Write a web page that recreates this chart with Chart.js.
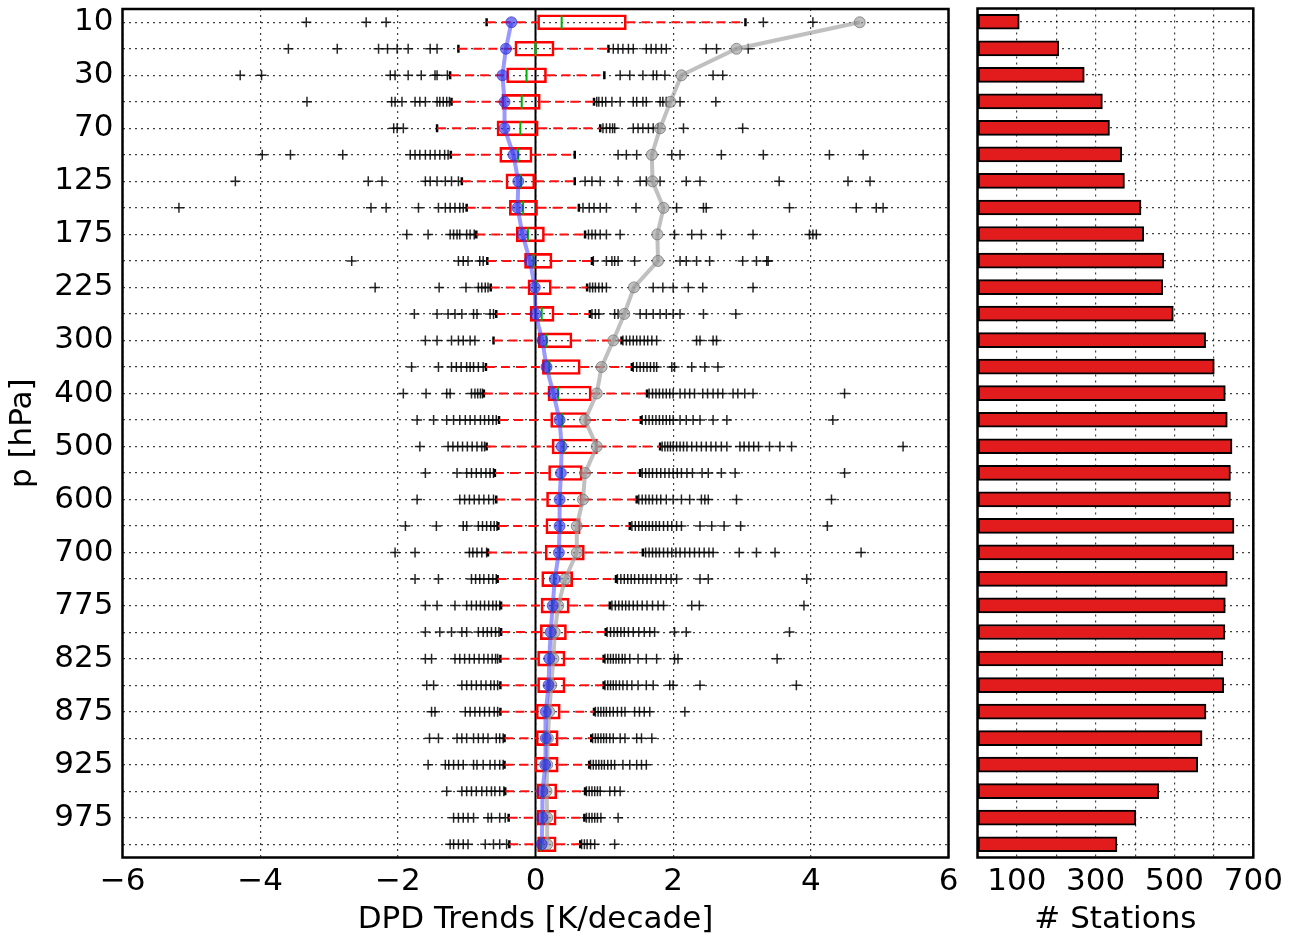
<!DOCTYPE html>
<html><head><meta charset="utf-8">
<script src="https://cdn.jsdelivr.net/npm/chart.js@4.4.1/dist/chart.umd.min.js"></script>
<style>
html,body{margin:0;padding:0;background:#fff;width:1298px;height:939px;overflow:hidden}
#cl{position:absolute;left:0;top:0}
#cr{position:absolute;left:960px;top:0}
</style></head><body>
<canvas id="cl" width="960" height="939"></canvas>
<canvas id="cr" width="338" height="939"></canvas>
<script>
// pressure levels [hPa]
const levels = [10,20,30,50,70,100,125,150,175,200,225,250,300,350,400,450,500,550,600,650,700,750,775,800,825,850,875,900,925,950,975,1000];
// box plot statistics [K/decade]
const boxQ1 = [0.03,-0.30,-0.42,-0.49,-0.56,-0.52,-0.43,-0.38,-0.28,-0.16,-0.11,-0.08,0.04,0.10,0.18,0.22,0.24,0.19,0.16,0.15,0.14,0.09,0.08,0.07,0.03,0.03,0.01,0.01,-0.01,0.02,0.02,0.03];
const boxQ3 = [1.32,0.27,0.16,0.07,0.04,-0.05,-0.01,0.03,0.13,0.24,0.23,0.27,0.53,0.65,0.81,0.75,0.90,0.68,0.68,0.65,0.71,0.54,0.49,0.45,0.43,0.43,0.36,0.33,0.33,0.31,0.30,0.30];
const boxMedian = [0.38,0.00,-0.13,-0.20,-0.22,-0.25,-0.21,-0.18,-0.11,-0.03,0.01,0.09,0.16,0.20,0.33,0.39,0.41,0.38,0.36,0.36,0.35,0.27,0.24,0.22,0.20,0.19,0.15,0.14,0.13,0.10,0.10,0.08];
const whiskerLow = [-0.71,-1.12,-1.24,-1.22,-1.43,-1.23,-1.07,-1.00,-0.86,-0.70,-0.65,-0.57,-0.61,-0.72,-0.75,-0.53,-0.71,-0.59,-0.57,-0.54,-0.69,-0.55,-0.50,-0.50,-0.51,-0.51,-0.51,-0.45,-0.45,-0.44,-0.39,-0.38];
const whiskerHigh = [3.05,1.06,1.00,0.85,0.94,0.57,0.57,0.63,0.72,0.82,0.75,0.79,1.25,1.40,1.62,1.53,1.81,1.52,1.47,1.37,1.56,1.17,1.08,1.02,0.99,0.99,0.85,0.81,0.78,0.72,0.71,0.65];
// blue and grey profile lines
const blueTrend = [-0.35,-0.43,-0.48,-0.45,-0.45,-0.32,-0.25,-0.26,-0.19,-0.08,-0.01,0.00,0.10,0.16,0.26,0.35,0.38,0.37,0.35,0.35,0.34,0.28,0.25,0.22,0.20,0.19,0.15,0.15,0.14,0.10,0.10,0.09];
const greyTrend = [4.71,2.92,2.12,1.96,1.81,1.69,1.70,1.86,1.77,1.78,1.43,1.29,1.13,0.96,0.89,0.72,0.89,0.72,0.69,0.60,0.60,0.43,0.33,0.28,0.26,0.23,0.20,0.18,0.17,0.16,0.17,0.17];
// outliers per level
const outliers = [
 [-3.33,-2.46,-2.17,3.31,4.03],
 [-3.59,-2.88,-2.28,-2.15,-2.01,-1.85,-1.53,-1.43,1.13,1.20,1.27,1.35,1.42,1.61,1.68,1.75,1.83,1.90,2.48,2.63,3.09],
 [-4.29,-3.98,-2.11,-2.04,-1.85,-1.66,-1.46,-1.43,-1.28,1.23,1.37,1.56,1.71,1.76,1.88,2.58,2.72],
 [-3.32,-2.09,-2.04,-1.94,-1.75,-1.68,-1.60,-1.43,-1.39,-1.34,-1.29,-1.25,0.89,0.92,0.97,1.02,1.11,1.23,1.42,1.47,1.56,1.61,1.81,1.85,1.90,2.10,2.62],
 [-2.06,-2.01,-1.92,0.98,1.03,1.08,1.12,1.15,1.42,1.49,1.56,1.64,1.71,1.78,2.15,3.01],
 [-3.97,-3.56,-2.80,-1.82,-1.75,-1.68,-1.60,-1.53,-1.46,-1.39,-1.32,-1.27,1.20,1.32,1.47,1.98,2.10,2.70,3.31,4.27,4.76],
 [-4.36,-2.43,-2.23,-1.60,-1.53,-1.43,-1.31,-1.22,-1.12,0.72,0.82,0.94,1.20,1.52,1.61,1.81,2.19,2.39,3.54,4.54,4.86],
 [-5.18,-2.39,-2.17,-1.70,-1.41,-1.31,-1.24,-1.17,-1.10,-1.05,0.69,0.78,0.85,0.94,1.03,1.46,2.05,2.44,2.48,3.69,4.66,4.95,5.05],
 [-1.87,-1.56,-1.24,-1.19,-1.14,-1.10,-1.00,-0.95,-0.89,0.77,0.82,0.87,0.94,1.03,1.23,2.02,2.27,2.41,2.70,3.16,3.98,4.03,4.08],
 [-2.67,-1.12,-1.05,-0.98,-0.81,-0.76,0.84,1.03,1.11,1.15,1.20,1.44,2.10,2.19,2.34,2.53,3.01,3.21,3.36,3.38],
 [-2.33,-1.40,-1.01,-0.83,-0.78,-0.73,-0.69,0.79,0.83,0.87,0.92,0.97,1.03,1.71,1.85,2.00,2.22,2.43,3.16],
 [-1.76,-1.43,-1.27,-1.17,-1.07,-0.90,-0.85,-0.66,-0.61,0.82,0.87,0.92,1.15,1.20,1.52,1.61,1.71,1.81,1.90,2.00,2.10,2.44,2.91],
 [-1.60,-1.43,-1.22,-1.12,-1.05,-0.95,-0.88,1.27,1.32,1.37,1.42,1.47,1.52,1.58,1.63,1.69,1.76,2.34,2.39,2.58,2.63],
 [-1.80,-1.41,-1.22,-1.15,-1.08,-1.00,-0.95,-0.90,-0.83,-0.76,1.42,1.47,1.52,1.57,1.62,1.67,1.72,1.76,1.98,2.02,2.27,2.46,2.65],
 [-1.92,-1.59,-1.29,-1.24,-0.93,-0.88,-0.84,-0.80,-0.77,1.65,1.70,1.75,1.80,1.85,1.90,1.95,2.00,2.10,2.17,2.24,2.31,2.43,2.50,2.58,2.65,2.72,2.87,2.94,3.04,3.16,4.49],
 [-1.72,-1.48,-1.29,-1.19,-1.10,-1.02,-0.95,-0.88,-0.80,-0.74,-0.68,-0.62,-0.57,1.55,1.60,1.65,1.70,1.75,1.80,1.85,1.90,1.95,2.00,2.10,2.19,2.29,2.39,2.58,2.78,4.32],
 [-1.68,-1.27,-1.20,-1.13,-1.06,-0.99,-0.92,-0.85,-0.78,-0.74,1.84,1.88,1.92,1.96,2.00,2.05,2.10,2.15,2.20,2.27,2.34,2.41,2.48,2.55,2.62,2.70,2.78,2.97,3.03,3.10,3.17,3.24,3.40,3.55,3.72,5.34],
 [-1.60,-1.14,-1.00,-0.93,-0.86,-0.79,-0.72,-0.66,-0.61,1.55,1.60,1.65,1.70,1.76,1.82,1.88,1.94,2.00,2.06,2.12,2.20,2.28,2.42,2.51,2.70,2.90,4.49],
 [-1.72,-1.10,-1.03,-0.96,-0.89,-0.82,-0.75,-0.68,-0.61,1.50,1.55,1.60,1.65,1.70,1.76,1.82,1.90,2.00,2.12,2.24,2.41,2.46,2.51,2.92,4.30],
 [-1.89,-1.44,-1.05,-1.00,-0.83,-0.77,-0.71,-0.65,-0.60,-0.56,1.40,1.45,1.50,1.55,1.60,1.65,1.70,1.75,1.80,1.86,1.92,1.98,2.05,2.12,2.39,2.56,2.74,2.98,4.24],
 [-2.04,-1.75,-0.96,-0.91,-0.85,-0.78,-0.71,1.60,1.65,1.70,1.75,1.80,1.86,1.92,1.98,2.04,2.10,2.17,2.24,2.31,2.38,2.45,2.52,2.58,2.96,3.21,3.48,4.73],
 [-1.75,-1.41,-0.93,-0.87,-0.81,-0.75,-0.68,-0.62,-0.57,1.19,1.24,1.29,1.34,1.39,1.44,1.50,1.56,1.62,1.68,1.75,1.82,1.90,1.97,2.05,2.39,2.51,3.94],
 [-1.60,-1.43,-1.17,-1.00,-0.93,-0.86,-0.80,-0.74,-0.68,-0.62,-0.57,-0.52,1.11,1.16,1.21,1.26,1.31,1.36,1.42,1.48,1.55,1.62,1.70,1.78,1.86,2.27,2.38,3.90],
 [-1.60,-1.39,-1.22,-1.07,-1.00,-0.83,-0.76,-0.70,-0.64,-0.58,-0.53,1.04,1.09,1.14,1.19,1.24,1.29,1.35,1.42,1.50,1.58,1.66,1.73,2.02,2.19,3.69],
 [-1.60,-1.51,-1.17,-1.10,-1.03,-0.96,-0.89,-0.82,-0.75,-0.69,-0.63,-0.58,-0.55,1.01,1.05,1.09,1.13,1.17,1.21,1.26,1.30,1.37,1.49,1.61,1.76,2.02,2.07,3.51],
 [-1.58,-1.48,-1.07,-1.00,-0.93,-0.86,-0.79,-0.72,-0.65,-0.60,-0.55,1.01,1.05,1.09,1.13,1.17,1.22,1.27,1.33,1.40,1.49,1.61,1.71,1.95,2.00,2.39,3.79],
 [-1.51,-1.46,-1.02,-0.95,-0.88,-0.81,-0.74,-0.67,-0.60,-0.55,0.87,0.91,0.95,0.99,1.03,1.08,1.13,1.19,1.25,1.30,1.44,1.51,1.58,1.66,2.17],
 [-1.54,-1.41,-1.14,-1.07,-1.00,-0.90,-0.83,-0.76,-0.69,-0.57,-0.52,-0.47,0.83,0.87,0.91,0.95,0.99,1.03,1.08,1.13,1.23,1.30,1.47,1.54,1.69],
 [-1.56,-1.31,-1.26,-1.19,-1.12,-1.05,-0.90,-0.85,-0.76,-0.66,-0.59,-0.52,-0.47,0.80,0.84,0.88,0.92,0.96,1.00,1.05,1.10,1.15,1.27,1.37,1.47,1.54,1.61],
 [-1.29,-1.07,-1.00,-0.93,-0.86,-0.78,-0.71,-0.64,-0.59,-0.52,-0.46,0.74,0.78,0.82,0.86,0.90,0.94,1.08,1.15,1.23],
 [-1.19,-1.12,-1.05,-0.98,-0.90,-0.69,-0.64,-0.52,-0.44,0.74,0.78,0.82,0.86,0.90,0.95,1.20],
 [-1.24,-1.19,-1.12,-1.05,-0.98,-0.73,-0.61,-0.52,-0.42,0.67,0.71,0.75,0.80,0.86,1.15]
];
// number of stations per level
const stations = [106,206,271,317,335,366,373,415,422,473,470,497,579,601,629,634,646,642,642,651,651,634,629,628,623,625,580,570,559,460,402,354];
// axis ticks
const trendTicks = [-6,-4,-2,0,2,4,6];
const stationTicks = [0,100,200,300,400,500,600,700];
const stationTickLabels = [100,300,500,700];

const FONT = '"DejaVu Sans", "Liberation Sans", sans-serif';
Chart.defaults.font.family = FONT;
Chart.defaults.color = '#000';

const framePlugin = {
  id: 'frame',
  afterDraw(chart) {
    const {ctx, chartArea: a} = chart;
    ctx.save(); ctx.strokeStyle = '#000'; ctx.lineWidth = 2.5;
    ctx.strokeRect(a.left, a.top, a.right - a.left, a.bottom - a.top);
    ctx.restore();
  }
};
const zeroLinePlugin = {
  id: 'zeroLine',
  beforeDatasetsDraw(chart) {
    const {ctx, chartArea: a, scales} = chart;
    const px = scales.x.getPixelForValue(0);
    ctx.save(); ctx.strokeStyle = '#000'; ctx.lineWidth = 2;
    ctx.beginPath(); ctx.moveTo(px, a.top); ctx.lineTo(px, a.bottom); ctx.stroke();
    ctx.restore();
  }
};

const idx = levels.map((_, i) => i);
const gridDash = [2, 4];
const yScaleBase = {
  type: 'linear', reverse: true, min: -0.5, max: 31.5, offset: false,
  afterBuildTicks: s => { s.ticks = idx.map(i => ({value: i})); },
  grid: {color: 'rgba(0,0,0,0.75)', lineWidth: 1.2, drawTicks: false, offset: false},
  border: {display: false, dash: gridDash}
};

const whiskerData = idx.flatMap(i => [
  {x: whiskerLow[i], y: i}, {x: boxQ1[i], y: i}, {x: null, y: i},
  {x: boxQ3[i], y: i}, {x: whiskerHigh[i], y: i}, {x: null, y: i}
]);
const capData = idx.flatMap(i => [{x: whiskerLow[i], y: i}, {x: whiskerHigh[i], y: i}]);
const flierData = outliers.flatMap((arr, i) => arr.map(v => ({x: v, y: i})));

new Chart(document.getElementById('cl'), {
  type: 'bar',
  data: {datasets: [
    {type: 'line', label: 'blue', data: idx.map(i => ({x: blueTrend[i], y: i})),
     borderColor: 'rgba(70,70,255,0.55)', borderWidth: 4, pointRadius: 5.5,
     pointBackgroundColor: 'rgba(40,40,230,0.6)', pointBorderColor: 'rgba(40,40,200,0.6)', pointBorderWidth: 1, order: 0},
    {type: 'line', label: 'grey', data: idx.map(i => ({x: greyTrend[i], y: i})),
     borderColor: 'rgba(165,165,165,0.7)', borderWidth: 4, pointRadius: 5.5,
     pointBackgroundColor: 'rgba(150,150,150,0.6)', pointBorderColor: 'rgba(110,110,110,0.7)', pointBorderWidth: 1, order: 1},
    {type: 'line', label: 'median', data: idx.map(i => ({x: boxMedian[i], y: i})), showLine: false,
     pointStyle: 'line', pointRotation: 90, pointRadius: 7, pointBorderColor: '#00b000', pointBorderWidth: 2, order: 2},
    {type: 'bar', label: 'box', data: idx.map(i => ({x: [boxQ1[i], boxQ3[i]], y: i})),
     backgroundColor: 'rgba(0,0,0,0)', borderColor: '#ff0000', borderWidth: 2, borderSkipped: false,
     barThickness: 15, order: 3},
    {type: 'line', label: 'whisker', data: whiskerData, borderColor: '#ff1010', borderWidth: 2,
     borderDash: [9, 6], pointRadius: 0, spanGaps: false, order: 4},
    {type: 'line', label: 'caps', data: capData, showLine: false, pointStyle: 'line', pointRotation: 90,
     pointRadius: 4, pointBorderColor: '#000', pointBorderWidth: 2.5, order: 5},
    {type: 'line', label: 'fliers', data: flierData, showLine: false, pointStyle: 'cross',
     pointRadius: 5, pointBorderColor: 'rgba(0,0,0,0.85)', pointBorderWidth: 1.5, order: 6}
  ]},
  options: {
    indexAxis: 'y', responsive: false, animation: false, events: [],
    layout: {padding: {top: 8.5, right: 11.5, bottom: 0, left: 0}},
    plugins: {legend: {display: false}, tooltip: {enabled: false}},
    scales: {
      x: {type: 'linear', min: -6, max: 6, offset: false,
          afterBuildTicks: s => { s.ticks = trendTicks.map(v => ({value: v})); },
          afterFit: s => { s.height = 81.5; s.paddingLeft = 0; s.paddingRight = 0; },
          ticks: {font: {size: 31}, padding: 6, maxRotation: 0,
                  callback: v => v < 0 ? '\u2212' + Math.abs(v) : String(v)},
          grid: {color: 'rgba(0,0,0,0.75)', lineWidth: 1.2, drawTicks: false},
          border: {display: false, dash: gridDash},
          title: {display: true, text: 'DPD Trends [K/decade]', font: {size: 31}, padding: {top: 4, bottom: 0}}},
      y: Object.assign({}, yScaleBase, {
          afterFit: s => { s.width = 122.5; s.paddingTop = 0; s.paddingBottom = 0; },
          ticks: {font: {size: 31}, padding: 9, autoSkip: false,
                  callback: v => (v % 2 === 0 ? String(levels[v]) : '')},
          title: {display: true, text: 'p [hPa]', font: {size: 31}, padding: {top: 4, bottom: 0}}})
    }
  },
  plugins: [zeroLinePlugin, framePlugin]
});

new Chart(document.getElementById('cr'), {
  type: 'bar',
  data: {datasets: [
    {label: '# Stations', data: idx.map(i => ({x: stations[i], y: i})),
     backgroundColor: '#e21c1c', borderColor: '#000', borderWidth: 2, borderSkipped: false, barThickness: 15}
  ]},
  options: {
    indexAxis: 'y', responsive: false, animation: false, events: [],
    layout: {padding: {top: 8.5, right: 44.7, bottom: 0, left: 17.5}},
    plugins: {legend: {display: false}, tooltip: {enabled: false}},
    scales: {
      x: {type: 'linear', min: 0, max: 700, offset: false, z: 1,
          afterBuildTicks: s => { s.ticks = stationTicks.map(v => ({value: v})); },
          afterFit: s => { s.height = 81.5; s.paddingLeft = 0; s.paddingRight = 0; },
          ticks: {font: {size: 31}, padding: 6, maxRotation: 0, autoSkip: false,
                  callback: v => stationTickLabels.includes(v) ? String(v) : ''},
          grid: {color: 'rgba(0,0,0,0.75)', lineWidth: 1.2, drawTicks: false},
          border: {display: false, dash: gridDash},
          title: {display: true, text: '# Stations', font: {size: 31}, padding: {top: 4, bottom: 0}}},
      y: Object.assign({}, yScaleBase, {z: 1,
          afterFit: s => { s.width = 0; s.paddingTop = 0; s.paddingBottom = 0; },
          ticks: {display: false}})
    }
  },
  plugins: [framePlugin]
});
</script>
</body></html>
